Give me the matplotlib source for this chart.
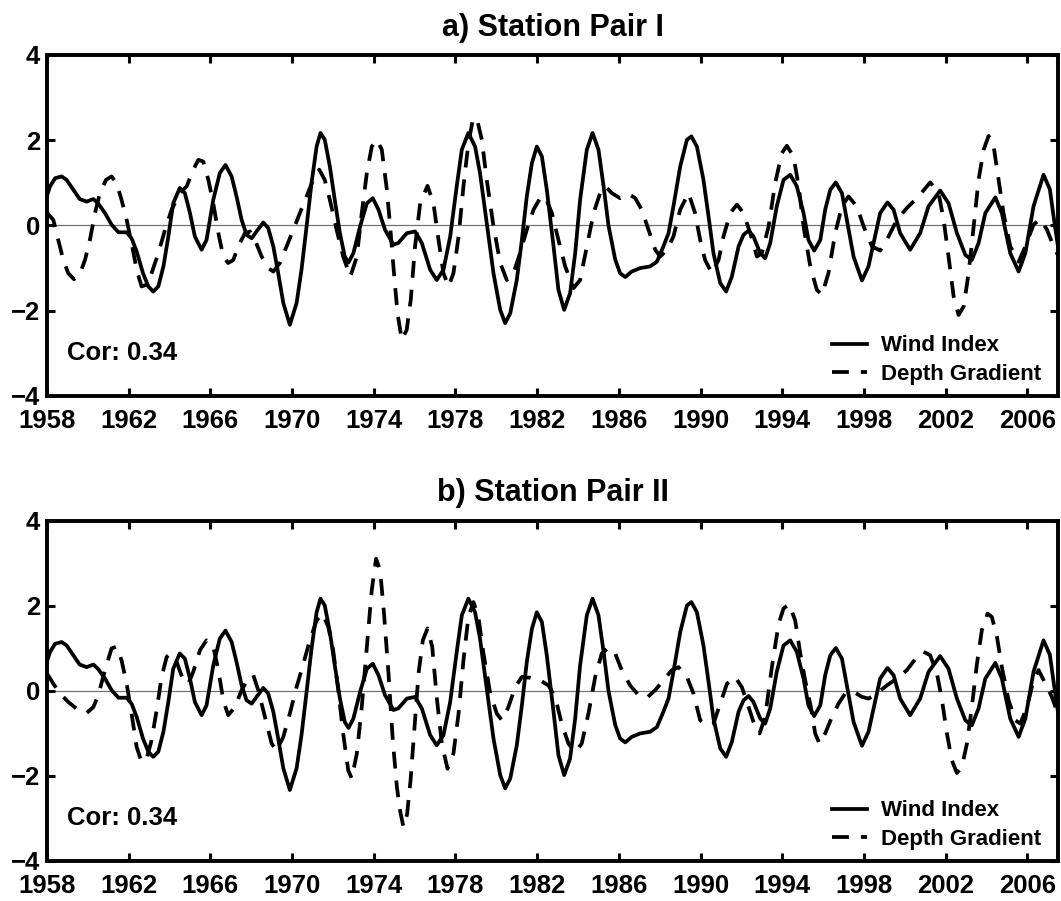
import matplotlib
matplotlib.use("Agg")
import matplotlib.pyplot as plt

plt.rcParams['font.family'] = ['Liberation Sans', 'DejaVu Sans']
plt.rcParams['font.weight'] = 'bold'

# wind index (same series in both panels)
wind_years = [1958.0, 1958.15, 1958.4, 1958.72, 1958.96, 1959.29, 1959.6, 1959.94, 1960.27, 1960.5,
              1960.84, 1961.16, 1961.5, 1961.9, 1962.14, 1962.39, 1962.7, 1962.96, 1963.2, 1963.45,
              1963.7, 1963.94, 1964.18, 1964.5, 1964.75, 1965.0, 1965.24, 1965.57, 1965.81, 1966.14,
              1966.46, 1966.74, 1967.04, 1967.28, 1967.53, 1967.77, 1968.02, 1968.26, 1968.59, 1968.83,
              1969.08, 1969.32, 1969.57, 1969.89, 1970.22, 1970.46, 1970.71, 1970.95, 1971.2, 1971.39,
              1971.6, 1971.85, 1972.09, 1972.34, 1972.58, 1972.76, 1973.0, 1973.33, 1973.66, 1973.95,
              1974.23, 1974.55, 1974.96, 1975.2, 1975.62, 1976.02, 1976.35, 1976.76, 1977.08, 1977.41,
              1977.74, 1978.06, 1978.31, 1978.63, 1978.96, 1979.2, 1979.53, 1979.86, 1980.19, 1980.43,
              1980.68, 1981.0, 1981.25, 1981.49, 1981.74, 1981.98, 1982.23, 1982.47, 1982.8, 1983.04,
              1983.32, 1983.61, 1983.86, 1984.1, 1984.43, 1984.71, 1985.0, 1985.25, 1985.49, 1985.82,
              1986.06, 1986.31, 1986.63, 1987.04, 1987.53, 1987.86, 1988.18, 1988.43, 1988.67, 1989.0,
              1989.33, 1989.55, 1989.82, 1990.14, 1990.39, 1990.63, 1990.96, 1991.25, 1991.53, 1991.86,
              1992.1, 1992.35, 1992.59, 1992.92, 1993.16, 1993.41, 1993.73, 1994.06, 1994.39, 1994.71,
              1995.04, 1995.28, 1995.56, 1995.86, 1996.1, 1996.35, 1996.62, 1996.92, 1997.16, 1997.49,
              1997.9, 1998.22, 1998.47, 1998.79, 1999.15, 1999.45, 1999.77, 2000.26, 2000.75, 2001.16,
              2001.73, 2002.14, 2002.55, 2002.96, 2003.28, 2003.61, 2003.94, 2004.43, 2004.75, 2005.16,
              2005.57, 2005.9, 2006.3, 2006.79, 2007.1, 2007.3, 2007.5]
wind_vals = [0.70, 0.92, 1.11, 1.15, 1.07, 0.84, 0.62, 0.56, 0.62, 0.52,
             0.29, 0.02, -0.16, -0.16, -0.30, -0.61, -1.12, -1.43, -1.55, -1.43,
             -0.96, -0.26, 0.52, 0.88, 0.76, 0.29, -0.26, -0.57, -0.34, 0.60,
             1.23, 1.42, 1.15, 0.68, 0.13, -0.22, -0.30, -0.14, 0.07, -0.06,
             -0.49, -1.12, -1.82, -2.33, -1.82, -1.04, -0.02, 0.99, 1.85, 2.17,
             2.01, 1.38, 0.60, -0.18, -0.73, -0.87, -0.65, -0.02, 0.52, 0.64,
             0.37, -0.10, -0.45, -0.41, -0.18, -0.14, -0.41, -1.04, -1.28, -1.04,
             -0.26, 0.92, 1.78, 2.17, 1.85, 1.23, 0.05, -1.12, -1.98, -2.29,
             -2.06, -1.28, -0.34, 0.68, 1.46, 1.85, 1.62, 0.84, -0.49, -1.51,
             -1.98, -1.59, -0.65, 0.60, 1.78, 2.17, 1.78, 0.92, 0.00, -0.80,
             -1.12, -1.21, -1.08, -1.00, -0.96, -0.85, -0.49, -0.18, 0.45, 1.38,
             2.01, 2.09, 1.85, 1.07, 0.21, -0.65, -1.35, -1.55, -1.20, -0.49,
             -0.22, -0.12, -0.26, -0.65, -0.77, -0.41, 0.45, 1.07, 1.19, 0.92,
             0.29, -0.34, -0.59, -0.34, 0.37, 0.84, 1.01, 0.76, 0.13, -0.73,
             -1.29, -0.96, -0.41, 0.29, 0.54, 0.37, -0.18, -0.57, -0.18, 0.45,
             0.82, 0.52, -0.18, -0.69, -0.81, -0.41, 0.29, 0.66, 0.29, -0.65,
             -1.08, -0.65, 0.45, 1.19, 0.85, 0.15, -0.50]

# depth gradient, station pair I
depth1_years = [1958.0, 1958.31, 1958.55, 1958.8, 1959.04, 1959.32, 1959.62, 1959.86, 1960.1, 1960.35,
                1960.59, 1960.89, 1961.16, 1961.41, 1961.65, 1961.9, 1962.14, 1962.39, 1962.63, 1962.88,
                1963.12, 1963.45, 1963.78, 1964.1, 1964.51, 1964.84, 1965.16, 1965.41, 1965.65, 1965.9,
                1966.14, 1966.39, 1966.63, 1966.87, 1967.12, 1967.36, 1967.69, 1967.94, 1968.18, 1968.51,
                1968.83, 1969.08, 1969.4, 1969.73, 1970.06, 1970.38, 1970.71, 1971.03, 1971.33, 1971.6,
                1971.85, 1972.18, 1972.5, 1972.85, 1973.17, 1973.41, 1973.66, 1973.9, 1974.15, 1974.39,
                1974.64, 1974.8, 1974.96, 1975.16, 1975.37, 1975.61, 1975.81, 1976.02, 1976.27, 1976.63,
                1976.92, 1977.17, 1977.41, 1977.66, 1977.9, 1978.15, 1978.39, 1978.63, 1978.85, 1979.04,
                1979.29, 1979.53, 1979.86, 1980.19, 1980.51, 1980.84, 1981.16, 1981.49, 1981.82, 1982.14,
                1982.39, 1982.72, 1983.04, 1983.37, 1983.78, 1984.1, 1984.43, 1984.76, 1985.08, 1985.33,
                1985.65, 1986.06, 1986.47, 1986.8, 1987.12, 1987.45, 1987.78, 1988.02, 1988.35, 1988.67,
                1989.0, 1989.41, 1989.73, 1989.98, 1990.22, 1990.55, 1990.88, 1991.12, 1991.45, 1991.78,
                1992.1, 1992.43, 1992.76, 1993.0, 1993.33, 1993.65, 1993.98, 1994.22, 1994.55, 1994.8,
                1995.04, 1995.37, 1995.69, 1995.94, 1996.26, 1996.59, 1996.92, 1997.24, 1997.65, 1997.98,
                1998.39, 1998.79, 1999.2, 1999.61, 2000.1, 2000.67, 2001.24, 2001.65, 2001.9, 2002.14,
                2002.39, 2002.63, 2002.88, 2003.12, 2003.37, 2003.61, 2003.86, 2004.1, 2004.35, 2004.59,
                2004.83, 2005.16, 2005.57, 2005.9, 2006.3, 2006.63, 2006.96, 2007.28, 2007.5]
depth1_vals = [0.30, 0.13, -0.34, -0.81, -1.12, -1.26, -1.12, -0.81, -0.34, 0.29,
               0.76, 1.07, 1.15, 0.99, 0.60, 0.13, -0.41, -1.04, -1.43, -1.39,
               -1.12, -0.65, -0.10, 0.37, 0.76, 0.92, 1.31, 1.54, 1.50, 1.07,
               0.52, -0.18, -0.73, -0.88, -0.81, -0.49, -0.18, -0.14, -0.34, -0.73,
               -1.00, -1.08, -0.88, -0.49, -0.10, 0.29, 0.68, 1.07, 1.31, 1.07,
               0.60, -0.10, -0.73, -1.20, -0.73, 0.29, 1.23, 1.85, 2.01, 1.78,
               0.84, -0.02, -0.96, -2.06, -2.68, -2.45, -1.74, -0.49, 0.52, 0.93,
               0.52, -0.34, -1.12, -1.43, -1.12, -0.26, 0.92, 1.93, 2.48, 2.52,
               2.01, 1.07, -0.02, -0.88, -1.28, -1.12, -0.65, -0.10, 0.37, 0.64,
               0.68, 0.29, -0.34, -0.96, -1.47, -1.28, -0.49, 0.29, 0.76, 0.92,
               0.76, 0.64, 0.74, 0.64, 0.37, -0.10, -0.57, -0.73, -0.57, -0.26,
               0.37, 0.76, 0.29, -0.34, -0.81, -1.12, -0.81, -0.26, 0.29, 0.49,
               0.29, -0.18, -0.73, -0.65, -0.02, 0.99, 1.70, 1.87, 1.62, 0.92,
               -0.02, -0.96, -1.51, -1.63, -1.12, -0.18, 0.45, 0.68, 0.45, -0.02,
               -0.49, -0.59, -0.26, 0.13, 0.41, 0.68, 1.01, 0.76, 0.13, -0.73,
               -1.67, -2.10, -1.90, -1.12, -0.02, 1.07, 1.78, 2.10, 1.85, 1.07,
               0.29, -0.49, -0.85, -0.49, 0.02, 0.15, -0.10, -0.49, -0.70]

# depth gradient, station pair II
depth2_years = [1958.0, 1958.31, 1958.64, 1959.04, 1959.53, 1959.94, 1960.27, 1960.51, 1960.84, 1961.16,
                1961.41, 1961.65, 1961.9, 1962.14, 1962.39, 1962.63, 1962.88, 1963.12, 1963.37, 1963.61,
                1963.86, 1964.05, 1964.35, 1964.67, 1964.92, 1965.16, 1965.49, 1965.81, 1966.14, 1966.39,
                1966.63, 1966.87, 1967.2, 1967.53, 1967.85, 1968.1, 1968.34, 1968.67, 1969.0, 1969.24,
                1969.57, 1969.89, 1970.22, 1970.55, 1970.87, 1971.2, 1971.49, 1971.77, 1972.01, 1972.26,
                1972.5, 1972.75, 1972.92, 1973.17, 1973.41, 1973.66, 1973.9, 1974.11, 1974.31, 1974.5,
                1974.72, 1974.93, 1975.13, 1975.3, 1975.45, 1975.63, 1975.8, 1975.97, 1976.19, 1976.4,
                1976.63, 1976.86, 1977.08, 1977.33, 1977.61, 1977.9, 1978.15, 1978.39, 1978.63, 1978.88,
                1979.12, 1979.37, 1979.7, 1980.02, 1980.27, 1980.59, 1980.92, 1981.25, 1981.65, 1982.14,
                1982.55, 1982.88, 1983.2, 1983.53, 1983.86, 1984.18, 1984.51, 1984.84, 1985.16, 1985.49,
                1985.82, 1986.14, 1986.55, 1986.96, 1987.37, 1987.78, 1988.18, 1988.59, 1988.92, 1989.33,
                1989.65, 1989.98, 1990.3, 1990.63, 1990.96, 1991.29, 1991.69, 1992.02, 1992.35, 1992.67,
                1992.89, 1993.16, 1993.49, 1993.82, 1994.06, 1994.34, 1994.63, 1994.88, 1995.12, 1995.4,
                1995.61, 1995.82, 1996.1, 1996.43, 1996.75, 1997.08, 1997.49, 1997.9, 1998.22, 1998.63,
                1999.12, 1999.61, 2000.1, 2000.59, 2000.92, 2001.24, 2001.57, 2001.82, 2002.06, 2002.3,
                2002.55, 2002.79, 2003.04, 2003.28, 2003.53, 2003.77, 2004.05, 2004.26, 2004.51, 2004.75,
                2005.08, 2005.41, 2005.65, 2005.98, 2006.3, 2006.55, 2006.88, 2007.2, 2007.5]
depth2_vals = [0.41, 0.17, -0.06, -0.26, -0.45, -0.52, -0.38, -0.10, 0.49, 1.00,
               1.04, 0.72, 0.17, -0.53, -1.32, -1.67, -1.59, -1.16, -0.45, 0.33,
               0.80, 0.88, 0.68, 0.25, 0.17, 0.45, 0.96, 1.19, 1.04, 0.49,
               -0.22, -0.57, -0.38, 0.02, 0.29, 0.37, 0.02, -0.61, -1.24, -1.40,
               -1.08, -0.53, 0.09, 0.64, 1.19, 1.66, 1.82, 1.51, 0.96, 0.02,
               -1.00, -1.87, -2.06, -1.47, -0.38, 1.04, 2.37, 3.11, 2.84, 1.82,
               0.41, -1.16, -2.26, -2.85, -3.20, -2.90, -2.10, -1.00, 0.41, 1.19,
               1.47, 1.04, -0.14, -1.24, -1.83, -1.47, -0.53, 0.72, 1.74, 2.09,
               1.74, 0.88, -0.06, -0.53, -0.69, -0.38, 0.09, 0.33, 0.31, 0.25,
               0.13, -0.14, -0.77, -1.24, -1.44, -1.24, -0.53, 0.33, 0.88, 1.02,
               0.88, 0.49, 0.13, -0.10, -0.16, 0.02, 0.25, 0.49, 0.56, 0.33,
               -0.06, -0.69, -0.81, -0.77, -0.30, 0.17, 0.33, 0.09, -0.38, -0.85,
               -1.00, -0.61, 0.56, 1.58, 1.94, 2.04, 1.66, 0.88, 0.25, -0.38,
               -1.00, -1.24, -1.00, -0.61, -0.30, -0.06, -0.02, -0.14, -0.18, -0.06,
               0.13, 0.29, 0.49, 0.80, 0.92, 0.84, 0.41, -0.22, -1.00, -1.63,
               -1.93, -1.79, -1.24, -0.38, 0.64, 1.43, 1.82, 1.74, 1.27, 0.56,
               -0.22, -0.69, -0.77, -0.38, 0.25, 0.49, 0.17, -0.14, -0.55]

panels = [("a) Station Pair I", depth1_years, depth1_vals, "Cor: 0.34"),
          ("b) Station Pair II", depth2_years, depth2_vals, "Cor: 0.34")]

xticks = list(range(1958, 2007, 4))
yticks = [-4, -2, 0, 2, 4]

fig = plt.figure(figsize=(10.61, 9.01), dpi=100)
boxes = [[0.0443, 0.5605, 0.9529, 0.3785], [0.0443, 0.0444, 0.9529, 0.3775]]

for box, (title, dyears, dvals, cor) in zip(boxes, panels):
    ax = fig.add_axes(box)
    ax.axhline(0, color='0.45', lw=0.9, zorder=1)
    ax.plot(wind_years, wind_vals, color='black', lw=2.7, label='Wind Index', zorder=3)
    ax.plot(dyears, dvals, color='black', lw=2.7, linestyle=(0, (4.5, 3.2)),
            label='Depth Gradient', zorder=2)
    ax.set_xlim(1958, 2007.5)
    ax.set_ylim(-4, 4)
    ax.set_xticks(xticks)
    ax.set_yticks(yticks)
    ax.tick_params(direction='in', top=True, right=True, length=6, width=2.2,
                   labelsize=18.5)
    ax.tick_params(axis='x', pad=9.5)
    ax.tick_params(axis='y', pad=5)
    for lab in ax.get_xticklabels() + ax.get_yticklabels():
        lab.set_fontweight('bold')
    for sp in ax.spines.values():
        sp.set_linewidth(2.8)
    ax.set_title(title, fontsize=22, fontweight='bold', pad=14)
    ax.text(1959, -3.0, cor, fontsize=18.5, fontweight='bold', ha='left', va='center')
    leg = ax.legend(loc='lower right', frameon=False, fontsize=16, handlelength=1.6,
                    handletextpad=0.6, labelspacing=0.34, borderaxespad=0.1,
                    bbox_to_anchor=(0.994, 0.0))
    for t in leg.get_texts():
        t.set_fontweight('bold')

fig.savefig('out.png', dpi=100)
